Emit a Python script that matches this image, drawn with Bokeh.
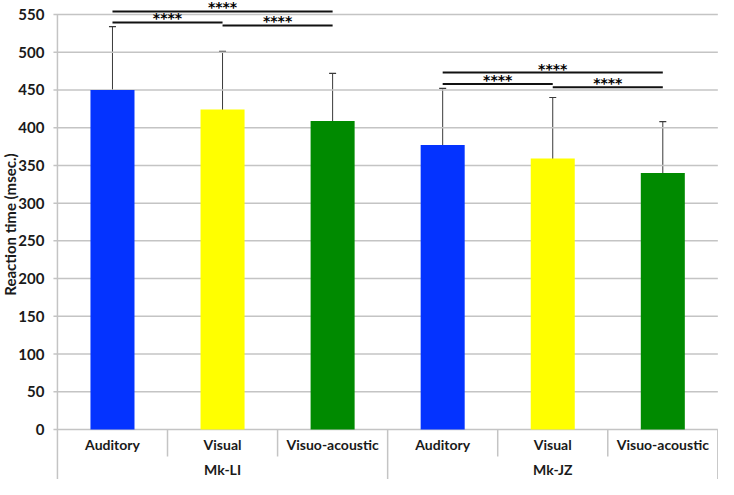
import numpy as np
from bokeh.plotting import figure
from bokeh.models import ColumnDataSource, Range1d, Whisker, TeeHead
from bokeh.core.properties import value
from bokeh.embed import file_html
from bokeh.resources import INLINE

# ---- data ----
groups = ["Mk-LI", "Mk-JZ"]
conditions = ["Auditory", "Visual", "Visuo-acoustic"]
colors = ["#0433ff", "#ffff00", "#008a00"]
means = [450, 424, 409, 377, 359, 340]
sds = [84, 77, 63, 75, 81, 68]
yticks = list(range(0, 551, 50))
sig_from = [0, 1, 0, 3, 4, 3]
sig_to = [1, 2, 2, 4, 5, 5]
sig_y = [539.5, 535.5, 554, 458, 453.5, 473]
sig_text = ["****", "****", "****", "****", "****", "****"]
y_title = "Reaction time (msec.)"

# ---- derived ----
n_cond = len(conditions)
n = len(groups) * n_cond
xs = [i + 0.5 for i in range(n)]
bar_colors = [colors[i % n_cond] for i in range(n)]
cond_labels = [conditions[i % n_cond] for i in range(n)]
upper = [m + s for m, s in zip(means, sds)]
lower = [m - s for m, s in zip(means, sds)]

# ---- layout (pixels) ----
W, H = 718, 479
LEFT_PX = 57
ZERO_PX, TOP_PX = 429, 14          # canvas px of value 0 and value 550
ppu = (ZERO_PX - TOP_PX) / 550.0
slot = (W - LEFT_PX) / n
y_end = 550 + TOP_PX / ppu
y_start = -(H - ZERO_PX) / ppu
x_start = -LEFT_PX / slot
x_end = n + 0.006
def px_x(dx):   # horizontal pixel offset from frame-left -> data x
    return dx / slot
sub_label_y = -15 / ppu
grp_label_y = -40 / ppu
sub_sep_y = -27 / ppu
title_y = (ZERO_PX - 224) / ppu

FONT = "Lato"
GRAY = "#c4c4c4"
TXT = "#1a1a1a"

p = figure(width=W, height=H, output_backend="svg", toolbar_location=None,
           x_range=Range1d(x_start, x_end), y_range=Range1d(y_start, y_end),
           x_axis_location=None, y_axis_location=None,
           min_border_left=0, min_border_right=0, min_border_top=0, min_border_bottom=0)
p.outline_line_color = None
p.xgrid.visible = False
p.ygrid.visible = False

# grid lines with their outer ticks
k = len(yticks)
p.segment(x0=[px_x(-4)] * k, y0=yticks, x1=[n] * k, y1=yticks, line_color=GRAY, line_width=1.5)
# tick labels
p.text(x=[px_x(-13)] * k, y=yticks, text=[str(t) for t in yticks], text_align="right",
       text_baseline="middle", text_font=value(FONT), text_font_style="bold",
       text_font_size=value("15px"), text_color=TXT)
# y title
p.text(x=[px_x(-47)], y=[title_y], text=[y_title], angle=np.pi / 2, text_align="center",
       text_baseline="middle", text_font=value(FONT), text_font_style="bold",
       text_font_size=value("15px"), text_color=TXT)

# axis line and category separators
p.segment(x0=[0], y0=[y_start], x1=[0], y1=[550], line_color=GRAY, line_width=1.5)
sub_sep = [i for i in range(1, n) if i % n_cond != 0]
p.segment(x0=sub_sep, y0=[0] * len(sub_sep), x1=sub_sep, y1=[sub_sep_y] * len(sub_sep),
          line_color=GRAY, line_width=1.5)
grp_sep = [g * n_cond for g in range(1, len(groups) + 1)]
p.segment(x0=grp_sep, y0=[0] * len(grp_sep), x1=grp_sep, y1=[y_start] * len(grp_sep),
          line_color=GRAY, line_width=1.5)

# bars
src = ColumnDataSource(dict(x=xs, top=means, color=bar_colors, upper=upper, lower=lower,
                            lab=cond_labels, ly=[sub_label_y] * n))
p.vbar(x="x", top="top", bottom=0, width=0.4, fill_color="color", line_color=None, source=src)

# error bars
p.add_layout(Whisker(base="x", upper="upper", lower="lower", source=src,
                     line_color="#3a3a3a", line_width=1,
                     upper_head=TeeHead(size=7, line_color="#3a3a3a", line_width=1.2),
                     lower_head=TeeHead(size=7, line_color="#3a3a3a", line_width=1.2)))

# category labels
p.text(x="x", y="ly", text="lab", source=src, text_align="center", text_baseline="middle",
       text_font=value(FONT), text_font_style="bold", text_font_size=value("14px"),
       text_color=TXT)
gx = [g * n_cond + n_cond / 2 for g in range(len(groups))]
p.text(x=gx, y=[grp_label_y] * len(groups), text=groups, text_align="center",
       text_baseline="middle", text_font=value(FONT), text_font_style="bold",
       text_font_size=value("14px"), text_color=TXT)

# significance brackets
sx0 = [xs[i] for i in sig_from]
sx1 = [xs[i] for i in sig_to]
p.segment(x0=sx0, y0=sig_y, x1=sx1, y1=sig_y, line_color="#111111", line_width=2)
p.text(x=[(a + b) / 2 for a, b in zip(sx0, sx1)], y=sig_y, text=sig_text,
       text_align="center", text_baseline="alphabetic", y_offset=-4,
       text_font=value("DejaVu Sans"), text_font_style="bold",
       text_font_size=value("14px"), text_color="#000000")

open("out.html", "w").write(file_html(p, INLINE))
